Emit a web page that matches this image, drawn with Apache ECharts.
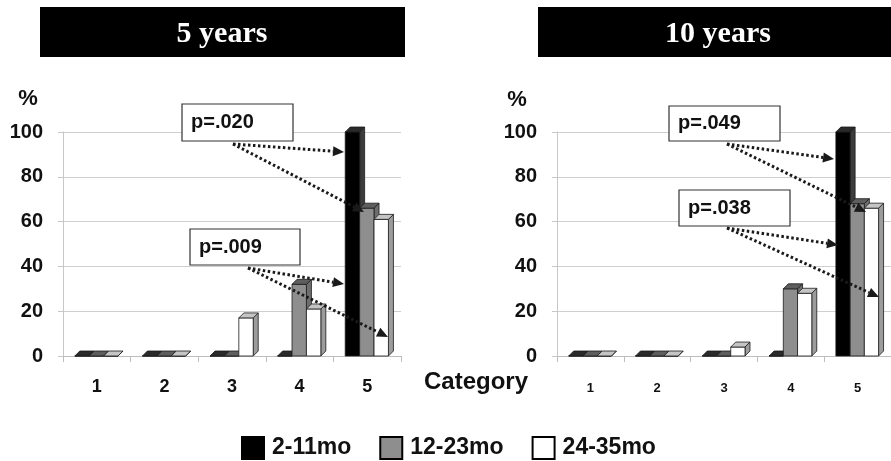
<!DOCTYPE html>
<html>
<head>
<meta charset="utf-8">
<script src="https://cdn.jsdelivr.net/npm/echarts@6/dist/echarts.min.js"></script>
<style>
html,body{margin:0;padding:0;background:#fff;}
#chart{width:891px;height:461px;}
</style>
</head>
<body>
<div id="chart"></div>
<script>
// ---- data ----
const categories = ['1', '2', '3', '4', '5'];
const seriesNames = ['2-11mo', '12-23mo', '24-35mo'];
const yTicks = [0, 20, 40, 60, 80, 100];
const fiveYears_2_11 = [0, 0, 0, 0, 100];
const fiveYears_12_23 = [0, 0, 0, 32, 66];
const fiveYears_24_35 = [0, 0, 17, 21, 61];
const tenYears_2_11 = [0, 0, 0, 0, 100];
const tenYears_12_23 = [0, 0, 0, 30, 68];
const tenYears_24_35 = [0, 0, 4, 28, 66];
const panelTitles = ['5 years', '10 years'];
const pLabels = ['p=.020', 'p=.009', 'p=.049', 'p=.038'];

// ---- styles ----
const faceColors = [
  {front: '#000000', top: '#2a2a2a', side: '#3c3c3c'},
  {front: '#8e8e8e', top: '#5e5e5e', side: '#6e6e6e'},
  {front: '#ffffff', top: '#c4c4c4', side: '#9c9c9c'}
];

function make3D(idx) {
  return function (params, api) {
    const cat = api.value(0);
    const val = api.value(1);
    const base = api.coord([cat, 0]);
    const top = api.coord([cat, val]);
    const band = api.size([1, 0])[0];
    const w = band * 0.213;
    const d = 5;
    const x = base[0] - band * 0.325 + idx * w;
    const y0 = base[1], y1 = top[1];
    const c = faceColors[idx];
    const st = {stroke: '#1a1a1a', lineWidth: 0.8};
    return {
      type: 'group',
      children: [
        {type: 'polygon', shape: {points: [[x + w, y1], [x + w + d, y1 - d], [x + w + d, y0 - d], [x + w, y0]]},
          style: Object.assign({fill: c.side}, st)},
        {type: 'rect', shape: {x: x, y: y1, width: w, height: y0 - y1},
          style: Object.assign({fill: c.front}, st)},
        {type: 'polygon', shape: {points: [[x, y1], [x + d, y1 - d], [x + w + d, y1 - d], [x + w, y1]]},
          style: Object.assign({fill: c.top}, st)}
      ]
    };
  };
}

function toPairs(arr) { return arr.map((v, i) => [i, v]); }

const panels = [
  [fiveYears_2_11, fiveYears_12_23, fiveYears_24_35],
  [tenYears_2_11, tenYears_12_23, tenYears_24_35]
];

const series = [];
panels.forEach((pan, g) => {
  pan.forEach((arr, i) => {
    series.push({
      name: seriesNames[i],
      type: 'custom',
      xAxisIndex: g,
      yAxisIndex: g,
      renderItem: make3D(i),
      encode: {x: 0, y: 1},
      itemStyle: {color: faceColors[i].front, borderColor: '#000', borderWidth: 1.2},
      data: toPairs(arr),
      z: 2 + i
    });
  });
});

const gridLines = '#cfcfcf';
function xAxisFor(g, fs, margin) {
  return {
    type: 'category', gridIndex: g, data: categories,
    axisLine: {show: true, lineStyle: {color: '#bdbdbd', width: 1}},
    axisTick: {show: true, length: 6, lineStyle: {color: '#bdbdbd'}},
    axisLabel: {color: '#111', fontFamily: 'Liberation Sans', fontWeight: 'bold', fontSize: fs, margin: margin},
    splitLine: {show: false}
  };
}
function yAxisFor(g) {
  return {
    type: 'value', gridIndex: g, min: yTicks[0], max: yTicks[yTicks.length - 1], interval: yTicks[1] - yTicks[0],
    axisLine: {show: true, lineStyle: {color: '#c8c8c8'}},
    axisTick: {show: true, length: 5, lineStyle: {color: '#c8c8c8'}},
    axisLabel: {color: '#111', fontFamily: 'Liberation Sans', fontWeight: 'bold', fontSize: 20, margin: 20},
    splitLine: {show: true, lineStyle: {color: gridLines, width: 1.2}}
  };
}

// annotation boxes & arrows (pixel positions of decorations)
const annBoxes = [
  {x: 182, y: 104, w: 111, h: 37, label: pLabels[0]},
  {x: 190, y: 229, w: 110, h: 36, label: pLabels[1]},
  {x: 669, y: 106, w: 111, h: 35, label: pLabels[2]},
  {x: 679, y: 190, w: 111, h: 36, label: pLabels[3]}
];
const annArrows = [
  [[233, 144], [344, 152]], [[233, 144], [364, 212]],
  [[248, 268], [344, 284]], [[248, 268], [388, 337]],
  [[727, 144], [834, 159]], [[727, 144], [866, 212]],
  [[727, 228], [838, 245]], [[727, 228], [879, 297]]
];

const graphics = [];
// titles
graphics.push({type: 'rect', shape: {x: 40, y: 7, width: 365, height: 50}, style: {fill: '#000'}});
graphics.push({type: 'rect', shape: {x: 538, y: 7, width: 365, height: 50}, style: {fill: '#000'}});
graphics.push({type: 'text', x: 222, y: 34, style: {text: panelTitles[0], fill: '#fff', font: 'bold 30px "Liberation Serif"', align: 'center', verticalAlign: 'middle'}});
graphics.push({type: 'text', x: 718, y: 34, style: {text: panelTitles[1], fill: '#fff', font: 'bold 30px "Liberation Serif"', align: 'center', verticalAlign: 'middle'}});
// % labels
graphics.push({type: 'text', x: 28, y: 99, style: {text: '%', fill: '#111', font: 'bold 22px "Liberation Sans"', align: 'center', verticalAlign: 'middle'}});
graphics.push({type: 'text', x: 517, y: 100, style: {text: '%', fill: '#111', font: 'bold 22px "Liberation Sans"', align: 'center', verticalAlign: 'middle'}});
// Category
graphics.push({type: 'text', x: 476, y: 382, style: {text: 'Category', fill: '#111', font: 'bold 24px "Liberation Sans"', align: 'center', verticalAlign: 'middle'}});
// arrows
annArrows.forEach(a => {
  const [p0, p1] = a;
  const dx = p1[0] - p0[0], dy = p1[1] - p0[1];
  const len = Math.sqrt(dx * dx + dy * dy);
  const ux = dx / len, uy = dy / len;
  const hl = 11, hw = 5;
  const bx = p1[0] - ux * hl, by = p1[1] - uy * hl;
  graphics.push({type: 'line', z: 50, shape: {x1: p0[0], y1: p0[1], x2: bx, y2: by},
    style: {stroke: '#1a1a1a', lineWidth: 3, lineDash: [2.5, 2.5]}});
  graphics.push({type: 'polygon', z: 50, shape: {points: [[p1[0], p1[1]], [bx - uy * hw, by + ux * hw], [bx + uy * hw, by - ux * hw]]},
    style: {fill: '#1a1a1a'}});
});
// boxes
annBoxes.forEach(b => {
  graphics.push({type: 'rect', z: 60, shape: {x: b.x, y: b.y, width: b.w, height: b.h}, style: {fill: '#fff', stroke: '#333', lineWidth: 1.2}});
  graphics.push({type: 'text', z: 61, x: b.x + 9, y: b.y + b.h / 2, style: {text: b.label, fill: '#111', font: 'bold 20px "Liberation Sans"', align: 'left', verticalAlign: 'middle'}});
});

const chart = echarts.init(document.getElementById('chart'));
chart.setOption({
  animation: false,
  backgroundColor: '#fff',
  grid: [
    {left: 63, top: 132, width: 338, height: 224},
    {left: 557, top: 132, width: 338, height: 224}
  ],
  xAxis: [xAxisFor(0, 18, 22), xAxisFor(1, 13, 26)],
  yAxis: [yAxisFor(0), yAxisFor(1)],
  legend: {
    data: seriesNames,
    left: 236, top: 431,
    icon: 'rect', itemWidth: 22, itemHeight: 22, itemGap: 28,
    textStyle: {color: '#111', fontFamily: 'Liberation Sans', fontWeight: 'bold', fontSize: 23, padding: [0, 0, 0, 3]}
  },
  series: series,
  graphic: graphics
});
</script>
</body>
</html>
